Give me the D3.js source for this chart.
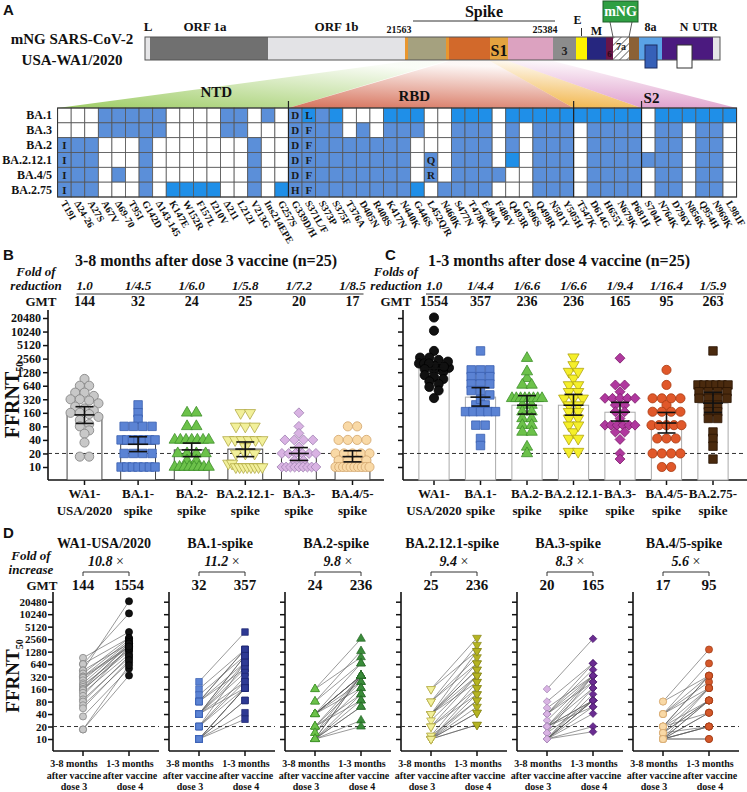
<!DOCTYPE html>
<html><head><meta charset="utf-8">
<script src="https://cdn.jsdelivr.net/npm/d3@7"></script>
<style>
body{margin:0;background:#fff}
svg{display:block}
text{font-family:"Liberation Serif","Times New Roman",serif;font-weight:bold;fill:#111}
</style></head>
<body><svg id="c" width="747" height="792"></svg>
<script>
// ---------------- DATA ----------------
const genomeSegments = ["L","ORF1a","ORF1b","sigA","NTD","sigB","RBD","S1","S2","ORF3","E","M","ORF6","ORF7a","ORF7b","ORF8","N","UTR"];
const genomeUnits    = [5,118,137,3,38,3,41,18,45,23,11,19,7,16,10,23,51,7];

const variants = ["BA.1","BA.3","BA.2","BA.2.12.1","BA.4/5","BA.2.75"];
const mutations = ["T19I","Δ24-26","A27S","A67V","Δ69-70","T95I","G142D","Δ143-145","K147E","W152R","F157L","I210V","Δ211","L212I","V213G","Ins214EPE","G257S","G339D/H","S371L/F","S373P","S375F","T376A","D405N","R408S","K417N","N440K","G446S","L452Q/R","N460K","S477N","T478K","E484A","F486V","Q493R","G496S","Q498R","N501Y","Y505H","T547K","D614G","H655Y","N679K","P681H","S704L","N764K","D796Y","N856K","Q954H","N969K","L981F"];
// 0 = absent, 1 = present, 2 = present (highlighted)
const presence = [
  "00011111000011010"+"1212000"+"22200222022222222220222222",
  "00011111000011000"+"1111010"+"11100111010111011110110110",
  "11100010000000100"+"1111111"+"11000111010111011110110110",
  "11100010000000100"+"1111111"+"11010111020111011111110110",
  "11101010000000100"+"1111111"+"11010111100111011110110110",
  "11100010222200102"+"1111111"+"11201111000111011110110110"
];
const cellLetterRow = ["BA.2","BA.2.12.1","BA.4/5","BA.2.75","BA.1","BA.3","BA.2","BA.2.12.1","BA.4/5","BA.2.75","BA.1","BA.3","BA.2","BA.2.12.1","BA.4/5","BA.2.75","BA.2.12.1","BA.4/5"];
const cellLetterMut = ["T19I","T19I","T19I","T19I","G339D/H","G339D/H","G339D/H","G339D/H","G339D/H","G339D/H","S371L/F","S371L/F","S371L/F","S371L/F","S371L/F","S371L/F","L452Q/R","L452Q/R"];
const cellLetter    = ["I","I","I","I","D","D","D","D","D","H","L","F","F","F","F","F","Q","R"];

const groups = ["WA1","BA.1","BA.2","BA.2.12.1","BA.3","BA.4/5","BA.2.75"];
const labelTop = ["WA1-","BA.1-","BA.2-","BA.2.12.1-","BA.3-","BA.4/5-","BA.2.75-"];
const labelBottom = ["USA/2020","spike","spike","spike","spike","spike","spike"];
const panelDTitles = ["WA1-USA/2020","BA.1-spike","BA.2-spike","BA.2.12.1-spike","BA.3-spike","BA.4/5-spike"];
const tickValues = [10,20,40,80,160,320,640,1280,2560,5120,10240,20480];

const foldReductionB = ["1.0","1/4.5","1/6.0","1/5.8","1/7.2","1/8.5"];
const gmtB = [144,32,24,25,20,17];
const ciLowB = [93,22,17,17,14,13];
const ciHighB = [219,47,34,36,27,23];

const foldReductionC = ["1.0","1/4.4","1/6.6","1/6.6","1/9.4","1/16.4","1/5.9"];
const gmtC = [1554,357,236,236,165,95,263];
const ciLowC = [1200,226,150,142,105,57,163];
const ciHighC = [2000,580,385,411,273,163,456];

const foldIncreaseD = ["10.8","11.2","9.8","9.4","8.3","5.6"];

// individual FFRNT50 titers (index i = same participant in dose 3 and dose 4)
const dose3_WA1 = [905,640,640,450,450,380,320,320,300,260,220,200,180,160,160,150,130,110,90,80,65,55,35,17,17];
const dose3_BA1 = [240,160,115,80,80,80,80,40,40,40,40,40,40,40,20,20,20,20,10,10,10,10,10,10,10];
const dose3_BA2 = [160,160,80,80,40,40,40,40,40,40,40,20,20,20,20,14,14,10,10,10,10,10,10,10,10];
const dose3_BA2121 = [160,160,80,80,80,40,40,40,40,40,40,28,20,20,20,12,12,10,10,10,10,10,10,10,10];
const dose3_BA3 = [160,80,56,40,40,40,40,28,20,20,20,20,20,20,14,14,10,10,10,10,10,10,10,10,10];
const dose3_BA45 = [80,80,40,40,40,40,20,20,20,20,20,14,14,14,14,10,10,10,10,10,10,10,10,10,10];

const dose4_WA1 = [3800,10700,2700,21000,2000,2700,1700,2400,1600,2200,2000,1400,1800,1300,2000,1500,1100,1700,900,1000,700,800,500,600,340];
const dose4_BA1 = [3800,1440,1020,1440,700,1440,500,1020,700,170,1020,500,240,400,700,170,320,240,170,85,170,43,170,85,30];
const dose4_BA2 = [2620,937,1320,666,336,666,336,238,336,169,336,120,336,238,85,336,169,60,336,120,336,85,28,60,20];
const dose4_BA2121 = [2760,1320,1860,666,937,470,1320,336,666,238,470,336,169,120,336,238,85,169,43,120,60,85,22,43,22];
const dose4_BA3 = [2620,666,336,470,666,336,238,336,85,169,336,85,238,60,336,85,169,41,85,120,85,20,60,85,15];
const dose4_BA45 = [1440,336,666,169,336,238,85,336,169,43,336,85,169,20,85,43,169,85,20,10,85,43,20,20,10];
const dose4_BA275 = [3800,666,666,666,666,666,666,470,470,470,470,336,336,336,336,238,238,169,169,120,120,60,43,29,15];

// ---------------- STYLE ----------------
const segFill = ["#e6e6e8","#707070","#e3e3e6","#e8962e","#a5a17f","#e8962e","#d2692b","#e3a33f","#dca2c0","#8c8c8c","#fff200","#26267f","#6b1548","url(#hatch)","#8b6136","#5aa2e6","#4b1a7f","#e6e6e8"];
const shapes = ["circle","square","triangle","tridown","diamond","circle","square"];
const fillB = ["#c8c8c8","#5b83d4","#6cc24a","#f2f09a","#d9b3e3","#f9d9a6"];
const strokeB = ["#7d7d7d","#3a5fb0","#3d8f2a","#b3ab48","#a385b5","#d2a56c"];
const fillC = ["#111111","#5b83d4","#6cc24a","#f5ef2a","#b0389e","#e0582a","#4a2a0e"];
const strokeC = ["#000000","#3a5fb0","#3d8f2a","#b1a410","#80206e","#a83a10","#2a1404"];
const fillD4 = ["#111111","#2e3a94","#3a8c3a","#b5b422","#6a2c91","#d4582a"];
const strokeD4 = ["#000000","#1c2570","#256625","#86851a","#4a1a6a","#9c3a14"];

const svg = d3.select("#c");
const defs = svg.append("defs");
const hatch = defs.append("pattern").attr("id","hatch").attr("patternUnits","userSpaceOnUse").attr("width",5).attr("height",5).attr("patternTransform","rotate(45)");
hatch.append("rect").attr("width",5).attr("height",5).attr("fill","#fff");
hatch.append("line").attr("x1",0).attr("y1",0).attr("x2",0).attr("y2",5).attr("stroke","#222").attr("stroke-width",1.2);

function T(g,x,y,s,o={}){
  const t=g.append("text").attr("x",x).attr("y",y).text(s).attr("font-size",o.size||12).attr("text-anchor",o.anchor||"start");
  if(o.italic)t.attr("font-style","italic");
  if(o.sans)t.style("font-family","'Liberation Sans',Arial,sans-serif");
  if(o.fill)t.style("fill",o.fill);
  return t;
}
function marker(g,shape,x,y,scale,fill,stroke,sw){
  let type=d3.symbolCircle,area=66,rot=0;
  if(shape==="square"){type=d3.symbolSquare;area=72;}
  if(shape==="triangle"){type=d3.symbolTriangle;area=55;}
  if(shape==="tridown"){type=d3.symbolTriangle;area=55;rot=180;}
  if(shape==="diamond"){type=d3.symbolSquare;area=49;rot=45;}
  g.append("path").attr("d",d3.symbol().type(type).size(area*scale)())
   .attr("transform",`translate(${x},${y}) rotate(${rot})`)
   .attr("fill",fill).attr("stroke",stroke).attr("stroke-width",sw||0.8);
}
function swarm(vals,yS,diam,maxSpread){
  const pts=vals.map((v,i)=>({i,y:yS(v)})).sort((a,b)=>a.y-b.y);
  const gr=[];let cur=null;
  pts.forEach(p=>{if(!cur||p.y-cur[0].y>diam*0.55){cur=[p];gr.push(cur);}else cur.push(p);});
  const off=new Array(vals.length).fill(0);
  gr.forEach(g=>{const n=g.length;if(n<2)return;const s=Math.min(diam,maxSpread/(n-1));g.forEach((p,k)=>off[p.i]=(k-(n-1)/2)*s);});
  return off;
}

// ---------------- PANEL A ----------------
const A = svg.append("g");
T(A,3,15,"A",{size:15,sans:true});
T(A,72,44,"mNG SARS-CoV-2",{size:15,anchor:"middle"});
T(A,72,65,"USA-WA1/2020",{size:15,anchor:"middle"});

const cum=[0];genomeUnits.forEach(u=>cum.push(cum[cum.length-1]+u));
const gx=d3.scaleLinear().domain([0,cum[cum.length-1]]).range([145,720]);
const seg=n=>{const i=genomeSegments.indexOf(n);return [gx(cum[i]),gx(cum[i+1])];};
const barY0=37,barY1=60;

const colX=d3.scaleBand().domain(mutations).range([57.6,736.6]);
const rowY=d3.scaleBand().domain(variants).range([108,197]);
const fanDefs=[["NTD","T19I","G257S","#98c95c"],["RBD","G339D/H","Y505H","#d46a52"],["S1","T547K","P681H","#efa92c"],["S2","S704L","L981F","#d98cc2"]];
fanDefs.forEach((f,k)=>{
  const gid="fan"+k;
  const lg=defs.append("linearGradient").attr("id",gid).attr("x1",0).attr("y1",1).attr("x2",k===0?0.7:0.25).attr("y2",0);
  lg.append("stop").attr("offset",0).attr("stop-color",f[3]).attr("stop-opacity",0.95);
  lg.append("stop").attr("offset",1).attr("stop-color",f[3]).attr("stop-opacity",0.05);
  const s=seg(f[0]);
  const x0=colX(f[1]),x1=colX(f[2])+colX.bandwidth();
  A.append("path").attr("d",`M${s[0]},${barY1+1}L${s[1]},${barY1+1}L${x1},108L${x0},108Z`).attr("fill",`url(#${gid})`);
});
T(A,(colX("T19I")+colX("G257S"))/2+50,97,"NTD",{size:15,anchor:"middle"});
T(A,(colX("G339D/H")+colX("Y505H"))/2-10,101,"RBD",{size:15,anchor:"middle"});
T(A,colX("S704L")+10,103,"S2",{size:15,anchor:"middle"});

genomeSegments.forEach((n,i)=>{
  A.append("rect").attr("x",gx(cum[i])).attr("y",barY0).attr("width",gx(cum[i+1])-gx(cum[i])).attr("height",barY1-barY0).attr("fill",segFill[i]);
});
A.append("rect").attr("x",gx(0)).attr("y",barY0).attr("width",gx(cum[cum.length-1])-gx(0)).attr("height",barY1-barY0).attr("fill","none").attr("stroke","#555").attr("stroke-width",1);
const s8=seg("ORF8"),sN=seg("N");
A.append("rect").attr("x",s8[0]+6).attr("y",45).attr("width",12).attr("height",23).attr("fill","#3660b8").attr("stroke","#1c2c60");
A.append("rect").attr("x",sN[0]+15).attr("y",45).attr("width",15).attr("height",23).attr("fill","#fff").attr("stroke","#333");
const s7=seg("ORF7a");
A.append("rect").attr("x",603).attr("y",1).attr("width",35).attr("height",21).attr("fill","#2f9f43").attr("stroke","#1d5e28");
T(A,620.5,16,"mNG",{size:14,anchor:"middle",fill:"#fff"});
A.append("line").attr("x1",610).attr("y1",22).attr("x2",s7[0]).attr("y2",barY0).attr("stroke","#333").attr("stroke-width",0.8);
A.append("line").attr("x1",632).attr("y1",22).attr("x2",s7[1]).attr("y2",barY0).attr("stroke","#333").attr("stroke-width",0.8);
const mid=n=>{const s=seg(n);return (s[0]+s[1])/2;};
T(A,gx(0)+3,31,"L",{size:13,anchor:"middle"});
T(A,mid("ORF1a")-4,31,"ORF 1a",{size:13,anchor:"middle"});
T(A,mid("ORF1b"),31,"ORF 1b",{size:13,anchor:"middle"});
T(A,seg("sigA")[0]-6,33,"21563",{size:10,anchor:"middle"});
T(A,seg("S2")[1]-8,33,"25384",{size:10,anchor:"middle"});
A.append("line").attr("x1",seg("sigA")[0]+8).attr("x2",seg("S2")[1]+2).attr("y1",21).attr("y2",21).attr("stroke","#333").attr("stroke-width",1);
T(A,(seg("sigA")[0]+seg("S2")[1])/2+5,17,"Spike",{size:16,anchor:"middle"});
T(A,mid("S1"),56,"S1",{size:16,anchor:"middle"});
T(A,mid("ORF3"),55,"3",{size:12,anchor:"middle",fill:"#222"});
T(A,mid("E")-4,24,"E",{size:12,anchor:"middle"});
A.append("line").attr("x1",mid("E")).attr("x2",mid("E")).attr("y1",28).attr("y2",36).attr("stroke","#333");
T(A,mid("M"),35,"M",{size:12,anchor:"middle"});
T(A,mid("ORF6"),57,"6",{size:9,anchor:"middle",fill:"#2a0a1a"});
T(A,mid("ORF7a"),50,"7a",{size:10,anchor:"middle",fill:"#222"});
T(A,mid("ORF8"),31,"8a",{size:12,anchor:"middle"});
T(A,sN[0]+22,31,"N",{size:12,anchor:"middle"});
T(A,sN[0]+43,31,"UTR",{size:12,anchor:"middle"});

const cellFill=["#ffffff","#5b8fd9","#1f8fe8"];
variants.forEach((v,r)=>{
  mutations.forEach((m,c)=>{
    A.append("rect").attr("x",colX(m)).attr("y",rowY(v)).attr("width",colX.bandwidth()).attr("height",rowY.bandwidth())
     .attr("fill",cellFill[+presence[r][c]]).attr("stroke","#555").attr("stroke-width",0.8);
  });
  T(A,52,rowY(v)+rowY.bandwidth()/2+4,v,{size:12,anchor:"end"});
});
A.append("rect").attr("x",colX.range()[0]).attr("y",108).attr("width",colX.range()[1]-colX.range()[0]).attr("height",89).attr("fill","none").attr("stroke","#333").attr("stroke-width",1);
["G339D/H","T547K","S704L"].forEach(m=>A.append("line").attr("x1",colX(m)).attr("x2",colX(m)).attr("y1",101).attr("y2",197).attr("stroke","#222").attr("stroke-width",1.2));
cellLetter.forEach((l,k)=>{
  T(A,colX(cellLetterMut[k])+colX.bandwidth()/2,rowY(cellLetterRow[k])+rowY.bandwidth()/2+4,l,{size:11,anchor:"middle",fill:"#1a1a1a"});
});
mutations.forEach(m=>{
  const x=colX(m)+colX.bandwidth()/2-4;
  A.append("text").attr("transform",`translate(${x},203) rotate(60)`).attr("font-size",10).text(m);
});

// ---------------- PANELS B & C ----------------
const yB=d3.scaleLog().base(2).domain([10,20480]).range([467,318]);
function barPanel(opt){
  const g=svg.append("g");
  const n=opt.n;
  const x=d3.scaleBand().domain(groups.slice(0,n)).range(opt.range).paddingInner(0.35).paddingOuter(0.175);
  const cx=k=>x(groups[k])+x.bandwidth()/2;
  const ya=g.append("g").attr("transform",`translate(${opt.axisX},0)`).call(d3.axisLeft(yB).tickValues(tickValues).tickSize(5).tickPadding(2).tickFormat(opt.labels?d3.format("d"):""));
  ya.select(".domain").remove();
  ya.selectAll("line").attr("stroke","#111").attr("stroke-width",1.5);
  ya.selectAll("text").attr("font-size",12).style("font-family",'"Liberation Serif",serif').style("font-weight","bold").attr("fill","#111");
  g.append("line").attr("x1",opt.axisX).attr("x2",opt.axisX).attr("y1",310).attr("y2",480).attr("stroke","#111").attr("stroke-width",1.6);
  const xa=g.append("g").attr("transform","translate(0,480)").call(d3.axisBottom(x).tickSize(5).tickFormat(""));
  xa.select(".domain").remove();
  xa.selectAll("line").attr("stroke","#111").attr("stroke-width",1.5);
  g.append("line").attr("x1",opt.axisX).attr("x2",opt.xEnd).attr("y1",480).attr("y2",480).attr("stroke","#111").attr("stroke-width",1.6);
  for(let k=0;k<n;k++){
    g.append("rect").attr("x",x(groups[k])).attr("y",yB(opt.gmt[k])).attr("width",x.bandwidth()).attr("height",480-yB(opt.gmt[k]))
     .attr("fill","#fff").attr("stroke",opt.barStroke).attr("stroke-width",1);
  }
  g.append("line").attr("x1",opt.axisX).attr("x2",opt.xEnd-4).attr("y1",yB(20)).attr("y2",yB(20)).attr("stroke","#333").attr("stroke-width",1).attr("stroke-dasharray","4,3");
  for(let k=0;k<n;k++){
    const vals=opt.data[k];
    const off=swarm(vals,yB,9.3,opt.spread);
    vals.forEach((v,i)=>marker(g,shapes[k],cx(k)+off[i],yB(v),1,opt.fill[k],opt.stroke[k],0.8));
  }
  for(let k=0;k<n;k++){
    const c=cx(k),lo=yB(opt.lo[k]),hi=yB(opt.hi[k]),m=yB(opt.gmt[k]);
    const e=g.append("g").attr("stroke","#111").attr("stroke-width",1.6).attr("fill","none");
    e.append("line").attr("x1",c).attr("x2",c).attr("y1",lo).attr("y2",hi);
    [lo,hi].forEach(yy=>e.append("line").attr("x1",c-9).attr("x2",c+9).attr("y1",yy).attr("y2",yy));
    e.append("line").attr("x1",c-10).attr("x2",c+10).attr("y1",m).attr("y2",m);
  }
  for(let k=0;k<n;k++){
    T(g,cx(k),498,labelTop[k],{size:13,anchor:"middle"});
    T(g,cx(k),515,labelBottom[k],{size:13,anchor:"middle"});
    T(g,cx(k),290,opt.fold[k],{size:13,anchor:"middle",italic:true});
    T(g,cx(k),306,opt.gmt[k],{size:14,anchor:"middle"});
  }
  g.append("line").attr("x1",cx(0)-8).attr("x2",cx(n-1)+11).attr("y1",294).attr("y2",294).attr("stroke","#333").attr("stroke-width",1);
  T(g,opt.headX,276,opt.foldWord,{size:13,anchor:"middle",italic:true});
  T(g,opt.headX,290,"reduction",{size:13,anchor:"middle",italic:true});
  T(g,opt.headX+(opt.labels?5:0),306,"GMT",{size:13,anchor:"middle"});
  T(g,opt.titleX,266,opt.title,{size:16,anchor:"middle"});
  T(g,opt.letterX,260,opt.letter,{size:15,sans:true});
  return g;
}
barPanel({n:6,range:[57.7,379.3],axisX:48,xEnd:384,labels:true,gmt:gmtB,lo:ciLowB,hi:ciHighB,fold:foldReductionB,
  data:[dose3_WA1,dose3_BA1,dose3_BA2,dose3_BA2121,dose3_BA3,dose3_BA45],fill:fillB,stroke:strokeB,barStroke:"#444",spread:34,
  headX:36,foldWord:"Fold of",title:"3-8 months after dose 3 vaccine (n=25)",titleX:206,letter:"B",letterX:3});
barPanel({n:7,range:[410.75,736.25],axisX:403,xEnd:747,labels:false,gmt:gmtC,lo:ciLowC,hi:ciHighC,fold:foldReductionC,
  data:[dose4_WA1,dose4_BA1,dose4_BA2,dose4_BA2121,dose4_BA3,dose4_BA45,dose4_BA275],fill:fillC,stroke:strokeC,barStroke:"#aaa",spread:30,
  headX:396,foldWord:"Folds of",title:"1-3 months after dose 4 vaccine (n=25)",titleX:559,letter:"C",letterX:385});

function ffrnt(x,y,size){
  const t=svg.append("text").attr("transform",`translate(${x},${y}) rotate(-90)`).attr("text-anchor","middle").attr("font-size",size);
  t.append("tspan").text("FFRNT");
  t.append("tspan").attr("font-size",10).attr("dy",4).text("50");
}
ffrnt(19,400,20);

// ---------------- PANEL D ----------------
const D=svg.append("g");
const yD=d3.scaleLog().base(2).domain([10,20480]).range([739,601.7]);
const xD=d3.scaleBand().domain(groups.slice(0,6)).range([53,749]);
const d3s=[dose3_WA1,dose3_BA1,dose3_BA2,dose3_BA2121,dose3_BA3,dose3_BA45];
const d4s=[dose4_WA1,dose4_BA1,dose4_BA2,dose4_BA2121,dose4_BA3,dose4_BA45];
T(D,3,538,"D",{size:15,sans:true});
T(D,31,560,"Fold of",{size:13,anchor:"middle",italic:true});
T(D,31,574,"increase",{size:13,anchor:"middle",italic:true});
T(D,42,590,"GMT",{size:13,anchor:"middle"});
ffrnt(19,676,19);
for(let k=0;k<6;k++){
  const ax=xD(groups[k]),p1=ax+30,p2=ax+76,xe=ax+106;
  const g=D.append("g");
  const ya=g.append("g").attr("transform",`translate(${ax},0)`).call(d3.axisLeft(yD).tickValues(tickValues).tickSize(5).tickPadding(1).tickFormat(k===0?d3.format("d"):""));
  ya.select(".domain").remove();
  ya.selectAll("line").attr("stroke","#111").attr("stroke-width",1.5);
  ya.selectAll("text").attr("font-size",11).attr("dy","0.34em").style("font-family",'"Liberation Serif",serif').style("font-weight","bold").attr("fill","#111");
  g.append("line").attr("x1",ax).attr("x2",ax).attr("y1",592).attr("y2",751).attr("stroke","#111").attr("stroke-width",1.6);
  g.append("line").attr("x1",ax).attr("x2",xe).attr("y1",751).attr("y2",751).attr("stroke","#111").attr("stroke-width",1.6);
  [p1,p2].forEach(p=>g.append("line").attr("x1",p).attr("x2",p).attr("y1",751).attr("y2",756).attr("stroke","#111").attr("stroke-width",1.5));
  g.append("line").attr("x1",ax).attr("x2",xe).attr("y1",yD(20)).attr("y2",yD(20)).attr("stroke","#333").attr("stroke-width",1).attr("stroke-dasharray","4,3");
  d3s[k].forEach((v,i)=>g.append("line").attr("x1",p1).attr("y1",yD(v)).attr("x2",p2).attr("y2",yD(d4s[k][i])).attr("stroke","#555").attr("stroke-width",0.6));
  d3s[k].forEach(v=>marker(g,shapes[k],p1,yD(v),0.6,fillB[k],strokeB[k],0.7));
  d4s[k].forEach(v=>marker(g,shapes[k],p2,yD(v),0.6,fillD4[k],strokeD4[k],0.7));
  const c=(p1+p2)/2;
  T(g,c-2,548,panelDTitles[k],{size:14,anchor:"middle"});
  const ft=g.append("text").attr("x",c).attr("y",566).attr("text-anchor","middle").attr("font-size",14);
  ft.append("tspan").attr("font-style","italic").text(foldIncreaseD[k]+" ");
  ft.append("tspan").style("font-weight","normal").text("×");
  g.append("path").attr("d",`M${p1},576V572H${p2}V576`).attr("fill","none").attr("stroke","#333").attr("stroke-width",1);
  T(g,p1,590,gmtB[k],{size:15,anchor:"middle"});
  T(g,p2,590,gmtC[k],{size:15,anchor:"middle"});
  [["3-8 months","after vaccine","dose 3",p1-9],["1-3 months","after vaccine","dose 4",p2+1]].forEach(a=>{
    T(g,a[3],767,a[0],{size:10,anchor:"middle"});
    T(g,a[3],779,a[1],{size:10,anchor:"middle"});
    T(g,a[3],790,a[2],{size:10,anchor:"middle"});
  });
}
</script></body></html>
